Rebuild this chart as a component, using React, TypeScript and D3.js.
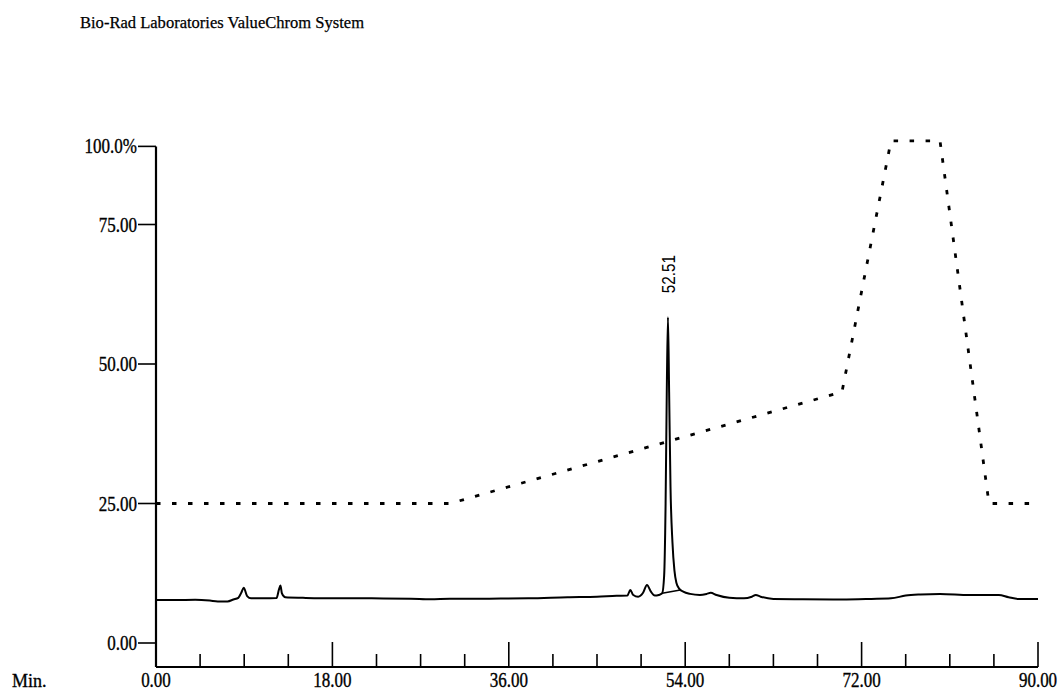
import React, { useEffect, useRef } from 'react';
import * as d3 from 'd3';

// detector trace, [minutes, value]
const tracePoints: [number, number][] = [
  [0, 7.7], [2, 7.7], [4, 7.75], [5.5, 7.6], [6.3, 7.45], [7.3, 7.45], [7.9, 7.8],
  [8.4, 8.1], [8.7, 9.0], [8.95, 9.9], [9.3, 8.4], [9.7, 8.0], [11, 8.0], [12.3, 8.05],
  [12.55, 9.6], [12.7, 10.3], [12.85, 8.9], [13.2, 8.2], [15, 8.1], [18, 8.0], [22, 8.0],
  [26, 7.95], [28, 7.85], [30, 7.95], [34, 7.95], [38, 8.0], [42, 8.2], [45, 8.3],
  [47, 8.45], [48.1, 8.5], [48.4, 9.5], [48.7, 8.6], [49.2, 8.3], [49.7, 9.0], [50.1, 10.4],
  [50.5, 9.2], [50.9, 8.5], [51.3, 8.6], [51.65, 8.9], [51.85, 12], [52.0, 25], [52.12, 45],
  [52.24, 58.4], [52.36, 45], [52.5, 28], [52.7, 18], [52.9, 13], [53.1, 10.8], [53.4, 9.7],
  [53.8, 9.2], [54.5, 8.8], [55.5, 8.6], [56.2, 8.8], [56.6, 9.0], [57.2, 8.6], [58.5, 8.1],
  [60, 8.0], [60.8, 8.3], [61.2, 8.6], [61.7, 8.3], [63, 7.9], [66, 7.85], [70, 7.8],
  [73, 7.9], [75, 8.0], [76.5, 8.5], [78, 8.7], [80, 8.8], [83, 8.6], [86, 8.6],
  [87, 8.2], [88, 7.9], [90, 7.9],
];

// integration baseline under the main peak
const peakBaseline: [number, number][] = [[51.65, 8.9], [53.5, 9.5]];

// gradient program, dotted
const gradientPoints: [number, number][] = [
  [0, 25], [30, 25], [70, 45], [75, 90], [80, 90], [85, 25], [90, 25],
];

const peakTime = 52.24;
const peakValue = 58.4;
const peakLabel = '52.51';

// top of the axis is the full-scale mark
const yTickValues = [0, 25, 50, 75, 89];
const yTickLabels = ['0.00', '25.00', '50.00', '75.00', '100.0%'];
const xMajorTicks = [0, 18, 36, 54, 72, 90];
const xMajorLabels = ['0.00', '18.00', '36.00', '54.00', '72.00', '90.00'];
const xMinorStep = 4.5;

const App = () => {
  const svgRef = useRef<SVGSVGElement>(null);

  useEffect(() => {
    const svgWidth = 1064;
    const svgHeight = 692;

    const svg = d3.select(svgRef.current)
      .attr('width', svgWidth)
      .attr('height', svgHeight)
      .style('background', '#fff');

    svg.selectAll('*').remove();

    const x = d3.scaleLinear().domain([0, 90]).range([156, 1038]);
    const y = d3.scaleLinear().domain([0, 100]).range([643, 85]);
    const axisY = 667;
    const yTop = y(yTickValues[yTickValues.length - 1]);

    const serif = '"Liberation Serif", "Times New Roman", serif';

    // title
    svg.append('text')
      .attr('x', 80)
      .attr('y', 28)
      .attr('font-family', serif)
      .attr('font-size', 17)
      .attr('textLength', 284)
      .attr('lengthAdjust', 'spacingAndGlyphs')
      .attr('fill', '#000')
      .attr('stroke', '#000')
      .attr('stroke-width', 0.25)
      .text('Bio-Rad Laboratories ValueChrom System');

    // y axis line
    svg.append('line')
      .attr('x1', x(0)).attr('x2', x(0))
      .attr('y1', yTop).attr('y2', axisY)
      .attr('stroke', '#000').attr('stroke-width', 2.2);

    // y ticks + labels
    yTickValues.forEach((v, i) => {
      svg.append('line')
        .attr('x1', x(0) - 18).attr('x2', x(0))
        .attr('y1', y(v)).attr('y2', y(v))
        .attr('stroke', '#000').attr('stroke-width', 1.6);
      svg.append('g')
        .attr('transform', `translate(${x(0) - 19},${y(v) + 7}) scale(0.85,1)`)
        .append('text')
        .attr('text-anchor', 'end')
        .attr('font-family', serif)
        .attr('font-size', 20)
        .attr('fill', '#000')
        .attr('stroke', '#000')
        .attr('stroke-width', 0.35)
        .text(yTickLabels[i]);
    });

    // x axis line
    svg.append('line')
      .attr('x1', x(0)).attr('x2', x(90))
      .attr('y1', axisY).attr('y2', axisY)
      .attr('stroke', '#000').attr('stroke-width', 2.2);

    // minor ticks
    d3.range(xMinorStep, 90, xMinorStep)
      .filter(t => t % 18 !== 0)
      .forEach(t => {
        svg.append('line')
          .attr('x1', x(t)).attr('x2', x(t))
          .attr('y1', axisY).attr('y2', axisY - 13)
          .attr('stroke', '#000').attr('stroke-width', 1.6);
      });

    // major ticks + labels
    xMajorTicks.forEach((t, i) => {
      if (t > 0) {
        svg.append('line')
          .attr('x1', x(t)).attr('x2', x(t))
          .attr('y1', axisY).attr('y2', axisY - 25)
          .attr('stroke', '#000').attr('stroke-width', 1.6);
      }
      svg.append('g')
        .attr('transform', `translate(${x(t)},${axisY + 20}) scale(0.85,1)`)
        .append('text')
        .attr('text-anchor', 'middle')
        .attr('font-family', serif)
        .attr('font-size', 20)
        .attr('fill', '#000')
        .attr('stroke', '#000')
        .attr('stroke-width', 0.35)
        .text(xMajorLabels[i]);
    });

    svg.append('text')
      .attr('x', 12)
      .attr('y', axisY + 20)
      .attr('font-family', serif)
      .attr('font-size', 18)
      .attr('fill', '#000')
      .attr('stroke', '#000')
      .attr('stroke-width', 0.3)
      .text('Min.');

    const line = d3.line<[number, number]>()
      .x(d => x(d[0]))
      .y(d => y(d[1]));

    // gradient
    svg.append('path')
      .datum(gradientPoints)
      .attr('fill', 'none')
      .attr('stroke', '#000')
      .attr('stroke-width', 2.8)
      .attr('stroke-dasharray', '4.5 11.5')
      .attr('d', line);

    // trace
    svg.append('path')
      .datum(tracePoints)
      .attr('fill', 'none')
      .attr('stroke', '#000')
      .attr('stroke-width', 2)
      .attr('stroke-linejoin', 'round')
      .attr('d', line.curve(d3.curveMonotoneX));

    svg.append('path')
      .datum(peakBaseline)
      .attr('fill', 'none')
      .attr('stroke', '#000')
      .attr('stroke-width', 1.5)
      .attr('d', d3.line<[number, number]>().x(d => x(d[0])).y(d => y(d[1])));

    // peak label
    svg.append('g')
      .attr('transform', `translate(${x(peakTime) + 7},${y(peakValue) - 24}) rotate(-90) scale(0.8,1)`)
      .append('text')
      .attr('font-family', '"Liberation Sans", Arial, sans-serif')
      .attr('font-size', 19)
      .attr('fill', '#000')
      .text(peakLabel);
  }, []);

  return <svg ref={svgRef} style={{ position: 'absolute', left: 0, top: 0 }}></svg>;
};

export default App;
